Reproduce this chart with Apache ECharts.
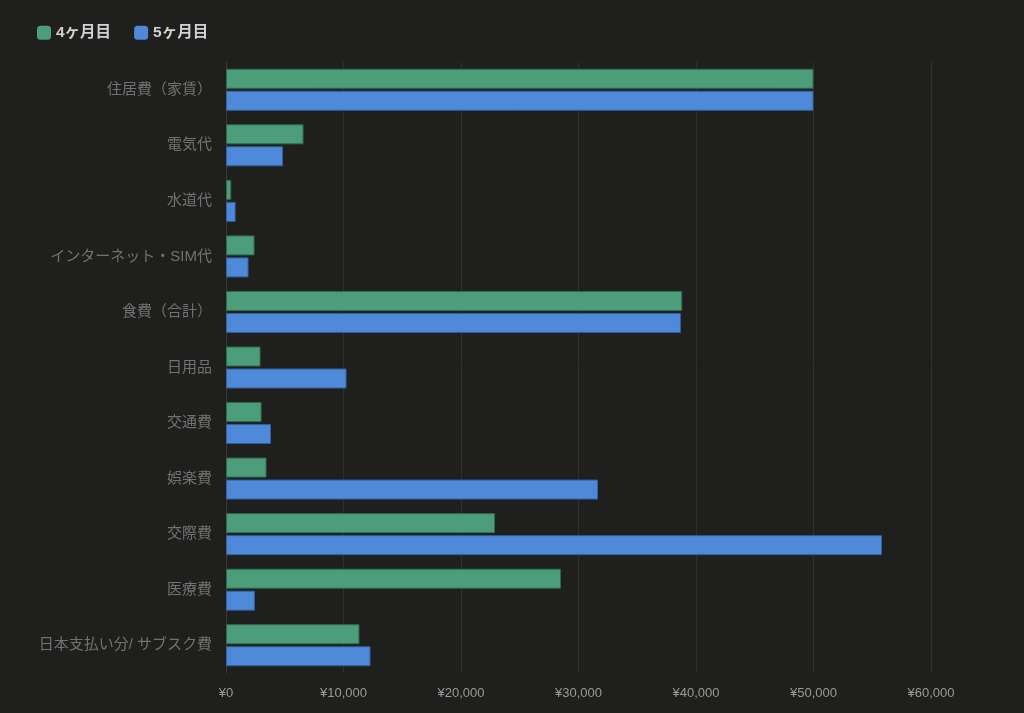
<!DOCTYPE html>
<html>
<head>
<meta charset="utf-8">
<script src="https://cdn.jsdelivr.net/npm/echarts@6/dist/echarts.min.js"></script>
<style>
  html, body { margin: 0; padding: 0; background: #1f1f1d; }
  #container { width: 1024px; height: 713px; }
</style>
</head>
<body>
<div id="container"></div>
<script>
// data
var categories = ['住居費（家賃）', '電気代', '水道代', 'インターネット・SIM代', '食費（合計）', '日用品', '交通費', '娯楽費', '交際費', '医療費', '日本支払い分/ サブスク費'];
var month4 = [50000, 6600, 450, 2430, 38830, 2940, 3030, 3450, 22900, 28510, 11360];
var month5 = [50000, 4850, 820, 1920, 38720, 10260, 3830, 31660, 55830, 2460, 12300];
var seriesNames = ['4ヶ月目', '5ヶ月目'];

var myChart = echarts.init(document.getElementById('container'));
var font = '"Liberation Sans", "Noto Sans CJK JP", sans-serif';
var option = {
    backgroundColor: '#1f1f1d',
    animation: false,
    legend: {
        left: 32,
        top: 20,
        itemWidth: 14,
        itemHeight: 14,
        itemGap: 23,
        icon: 'roundRect',
        itemStyle: { borderWidth: 0 },
        textStyle: { color: '#d2d2d2', fontSize: 15.5, fontFamily: font, fontWeight: 'bold' },
        data: seriesNames
    },
    grid: { left: 226, right: 93, top: 62, bottom: 40, containLabel: false },
    xAxis: {
        type: 'value',
        min: 0,
        max: 60000,
        interval: 10000,
        axisLine: { show: false },
        axisTick: { show: false },
        axisLabel: {
            color: '#9a9a9a',
            fontSize: 13,
            fontFamily: font,
            margin: 14,
            formatter: function (v) { return '¥' + v.toLocaleString('en-US'); }
        },
        splitLine: { lineStyle: { color: '#2f2f2d', width: 1 } }
    },
    yAxis: {
        type: 'category',
        inverse: true,
        data: categories,
        axisLine: { show: true, lineStyle: { color: '#3a3a38' } },
        axisTick: { show: false },
        axisLabel: { color: '#727272', fontSize: 15, fontFamily: font, margin: 14, padding: [3, 0, 0, 0] }
    },
    series: [
        {
            name: seriesNames[0],
            type: 'bar',
            data: month4,
            barWidth: 20,
            barGap: '10%',
            itemStyle: { color: '#4b9e79', borderColor: '#2f6b50', borderWidth: 1 }
        },
        {
            name: seriesNames[1],
            type: 'bar',
            data: month5,
            barWidth: 20,
            itemStyle: { color: '#4f89da', borderColor: '#345f9c', borderWidth: 1 }
        }
    ]
};
myChart.setOption(option);
</script>
</body>
</html>
